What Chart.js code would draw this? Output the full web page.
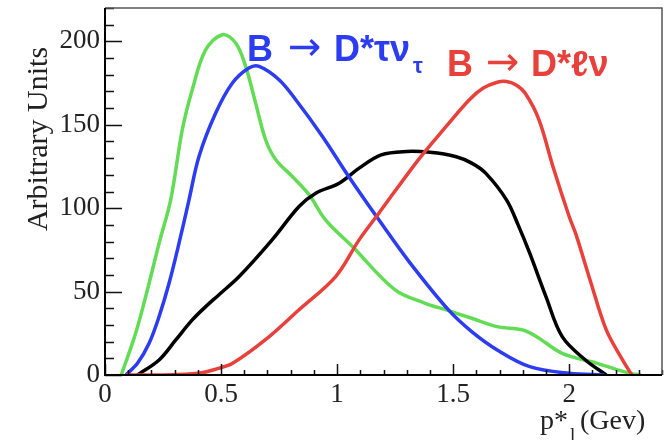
<!DOCTYPE html>
<html>
<head>
<meta charset="utf-8">
<script src="https://cdn.jsdelivr.net/npm/chart.js@4.4.1/dist/chart.umd.min.js"></script>
<style>
  html, body { margin: 0; background: #fff; }
  #wrap { width: 669px; height: 440px; }
</style>
</head>
<body>
<div id="wrap"><canvas id="chart"></canvas></div>
<script>
// tick values
const xTicks = [0, 0.5, 1, 1.5, 2];
const yTicks = [0, 50, 100, 150, 200];

// B -> D* tau nu (blue)
const tauX = [0.09, 0.14, 0.19, 0.233, 0.276, 0.319, 0.362, 0.405, 0.477, 0.549, 0.62, 0.664, 0.75, 0.822, 0.937, 1.05, 1.18, 1.31, 1.48, 1.58, 1.69, 1.83, 2.0, 2.15];
const tauY = [0, 7, 19, 35, 55, 79, 105, 131, 157, 175, 184, 185, 177, 165, 143, 119, 93, 68, 39, 26, 15, 5, 1, 0];

// B -> D* l nu (red)
const lepX = [0.09, 0.25, 0.40, 0.49, 0.55, 0.69, 0.835, 0.994, 1.095, 1.18, 1.35, 1.47, 1.57, 1.63, 1.69, 1.73, 1.77, 1.81, 1.87, 1.93, 2.0, 2.03, 2.09, 2.16, 2.23, 2.27];
const lepY = [0, 0, 1, 4, 7, 21, 39, 59, 81, 97, 129, 149, 165, 172, 175.5, 176, 174, 169, 153, 125, 95, 84, 57, 27, 9, 0];

// green curve
const greenX = [0.07, 0.132, 0.19, 0.233, 0.283, 0.333, 0.376, 0.434, 0.506, 0.563, 0.606, 0.649, 0.692, 0.736, 0.807, 0.88, 0.95, 1.066, 1.25, 1.38, 1.47, 1.58, 1.69, 1.80, 1.86, 1.97, 2.12, 2.26, 2.31];
const greenY = [0, 25, 55, 79, 105, 147, 171, 195, 204, 199, 185, 163, 141, 129, 119, 108, 93, 77, 51, 43, 39, 34, 29, 27, 23, 13, 7, 1, 0];

// black curve
const blackX = [0.14, 0.233, 0.305, 0.376, 0.434, 0.49, 0.578, 0.72, 0.836, 0.908, 1.009, 1.095, 1.19, 1.30, 1.40, 1.51, 1.58, 1.64, 1.73, 1.78, 1.83, 1.90, 1.97, 2.07, 2.16];
const blackY = [0, 9, 21, 33, 41, 48, 59, 81, 101, 109, 115, 124, 132, 134, 133.5, 131, 127, 121, 105, 90, 73, 47, 23, 9, 0];

const pts = (xs, ys) => xs.map((x, i) => ({ x, y: ys[i] }));

const serif = '"Liberation Serif", "DejaVu Serif", serif';
const sans = '"Liberation Sans", Arial, sans-serif';

const line = (data, color, order) => ({
  data, borderColor: color, borderWidth: 3.5, pointRadius: 0,
  tension: 0.35, fill: false, order
});

// ── frame, inside ticks and labels ─────────────────────
const decor = {
  id: 'decor',
  afterDraw(chart) {
    const { ctx, chartArea: a, scales: { x, y } } = chart;
    ctx.save();

    // ticks
    ctx.strokeStyle = '#111';
    ctx.lineWidth = 1.5;
    ctx.beginPath();
    for (let i = 0; i <= 22; i++) {
      const py = Math.round(y.getPixelForValue(i * 10)) + 0.5;
      const len = i % 5 === 0 ? 17 : 9;
      ctx.moveTo(a.left, py); ctx.lineTo(a.left + len, py);
    }
    for (let i = 0; i <= 24; i++) {
      const px = Math.round(x.getPixelForValue(i / 10)) + 0.5;
      const len = i % 5 === 0 ? 11 : 5;
      ctx.moveTo(px, a.bottom); ctx.lineTo(px, a.bottom - len);
    }
    ctx.stroke();

    // frame
    ctx.strokeStyle = '#555';
    ctx.lineWidth = 1.5;
    ctx.beginPath();
    ctx.moveTo(a.left, a.top); ctx.lineTo(a.right, a.top); ctx.lineTo(a.right, a.bottom);
    ctx.stroke();
    ctx.strokeStyle = '#000';
    ctx.lineWidth = 2;
    ctx.beginPath();
    ctx.moveTo(a.left, a.top); ctx.lineTo(a.left, a.bottom); ctx.lineTo(a.right, a.bottom);
    ctx.stroke();

    // axis titles
    ctx.fillStyle = '#222';
    ctx.textBaseline = 'alphabetic';
    ctx.save();
    ctx.translate(47, 139);
    ctx.rotate(-Math.PI / 2);
    ctx.textAlign = 'center';
    ctx.font = '30px ' + serif;
    ctx.fillText('Arbitrary Units', 0, 0);
    ctx.restore();

    ctx.textAlign = 'left';
    ctx.font = '28px ' + serif;
    ctx.fillText('p*', 540, 429);
    ctx.font = '19px ' + serif;
    ctx.fillText('l', 570, 441);
    ctx.font = '28px ' + serif;
    ctx.fillText('(Gev)', 580, 429);

    // process labels
    ctx.fillStyle = '#2b3cf2';
    ctx.font = 'bold 36px ' + sans;
    ctx.fillText('B', 247, 61);
    ctx.fillText('D*\u03c4\u03bd', 334, 61);
    ctx.font = 'bold 22px ' + sans;
    ctx.fillText('\u03c4', 413, 73);
    ctx.font = '40px "DejaVu Sans"';
    ctx.fillText('\u2192', 288, 60);

    ctx.fillStyle = '#e8403a';
    ctx.font = 'bold 36px ' + sans;
    ctx.fillText('B', 447, 76);
    ctx.fillText('D*\u2113\u03bd', 531, 76);
    ctx.font = '40px "DejaVu Sans"';
    ctx.fillText('\u2192', 486, 75);

    ctx.restore();
  }
};

new Chart(document.getElementById('chart'), {
  type: 'line',
  data: {
    datasets: [
      line(pts(lepX, lepY), '#e8403a', 0),
      line(pts(tauX, tauY), '#2b3cf2', 1),
      line(pts(blackX, blackY), '#000000', 2),
      line(pts(greenX, greenY), '#62dc55', 3)
    ]
  },
  options: {
    responsive: true,
    maintainAspectRatio: false,
    animation: false,
    layout: { padding: { top: 8, right: 7, left: 0, bottom: 0 } },
    plugins: { legend: { display: false }, tooltip: { enabled: false } },
    scales: {
      x: {
        type: 'linear', min: 0, max: 2.4,
        afterBuildTicks: s => { s.ticks = xTicks.map(v => ({ value: v })); },
        afterFit: s => { s.height = 65; s.paddingLeft = 0; s.paddingRight = 0; },
        grid: { display: false, drawTicks: false },
        border: { display: false },
        ticks: { callback: v => String(v), font: { family: serif, size: 27 }, color: '#222', padding: 4, maxRotation: 0, autoSkip: false }
      },
      y: {
        min: 0, max: 220,
        afterBuildTicks: s => { s.ticks = yTicks.map(v => ({ value: v })); },
        afterFit: s => { s.width = 105; s.paddingTop = 0; s.paddingBottom = 0; },
        grid: { display: false, drawTicks: false },
        border: { display: false },
        ticks: { font: { family: serif, size: 27 }, color: '#222', padding: 5, autoSkip: false }
      }
    }
  },
  plugins: [decor]
});
</script>
</body>
</html>
